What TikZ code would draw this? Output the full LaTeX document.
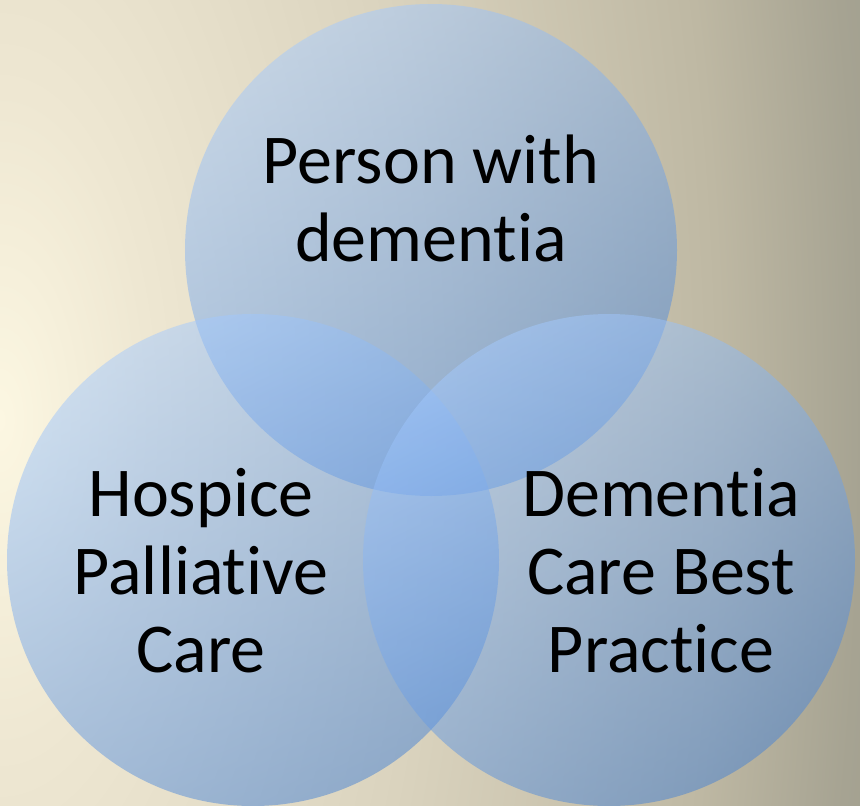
\documentclass[tikz,border=0pt]{standalone}
\usepackage{fontspec}
\setmainfont{Carlito}[Ligatures={NoCommon,NoContextual}]

% backdrop tones, from the warm left edge to the grey right edge
\definecolor{bgA}{RGB}{252,247,226}
\definecolor{bgB}{RGB}{238,231,210}
\definecolor{bgC}{RGB}{218,211,190}
\definecolor{bgD}{RGB}{190,184,163}
\definecolor{bgE}{RGB}{166,163,146}
\definecolor{bgF}{RGB}{162,160,144}
% disc tones
\definecolor{discTop}{RGB}{164,202,255}
\definecolor{discBot}{RGB}{70,130,212}

% radial glow; 25bp corresponds to the radius of the shaded circle
\pgfdeclareradialshading{backdrop}{\pgfpoint{0bp}{0bp}}{%
  color(0bp)=(bgA); color(4.17bp)=(bgB); color(11.94bp)=(bgC);
  color(20bp)=(bgD); color(23.9bp)=(bgE); color(25bp)=(bgF);
  color(50bp)=(bgF)}

\tikzset{
  disc/.style={top color=discTop, bottom color=discBot,
    shading angle=25, opacity=0.5},
  label/.style={align=center, text=black, inner sep=0pt,
    font=\fontsize{70}{78}\selectfont}
}

\begin{document}
\begin{tikzpicture}[x=1pt, y=-1pt]
  % page and backdrop: a warm glow at the middle of the left edge,
  % stretched vertically
  \useasboundingbox (0,0) rectangle (860,806);
  \begin{scope}
    \clip (0,0) rectangle (860,806);
    \begin{scope}[transform canvas={yscale=2.2}]
      \shade[shading=backdrop] (0,190.9) circle [radius=900pt];
    \end{scope}
  \end{scope}

  % circle centres
  \coordinate (top)   at (431,250);
  \coordinate (left)  at (253,560);
  \coordinate (right) at (609,560);

  % the three overlapping discs
  \shade[disc] (top)   circle [radius=246pt];
  \shade[disc] (left)  circle [radius=246pt];
  \shade[disc] (right) circle [radius=246pt];

  % labels
  \node[label] (person)  at (431,198) {Person with\\dementia};
  \node[label] (hospice) at (201,571) {Hospice\\Palliative\\Care};
  \node[label] (best)    at (661,571) {Dementia\\Care Best\\Practice};
\end{tikzpicture}
\end{document}
